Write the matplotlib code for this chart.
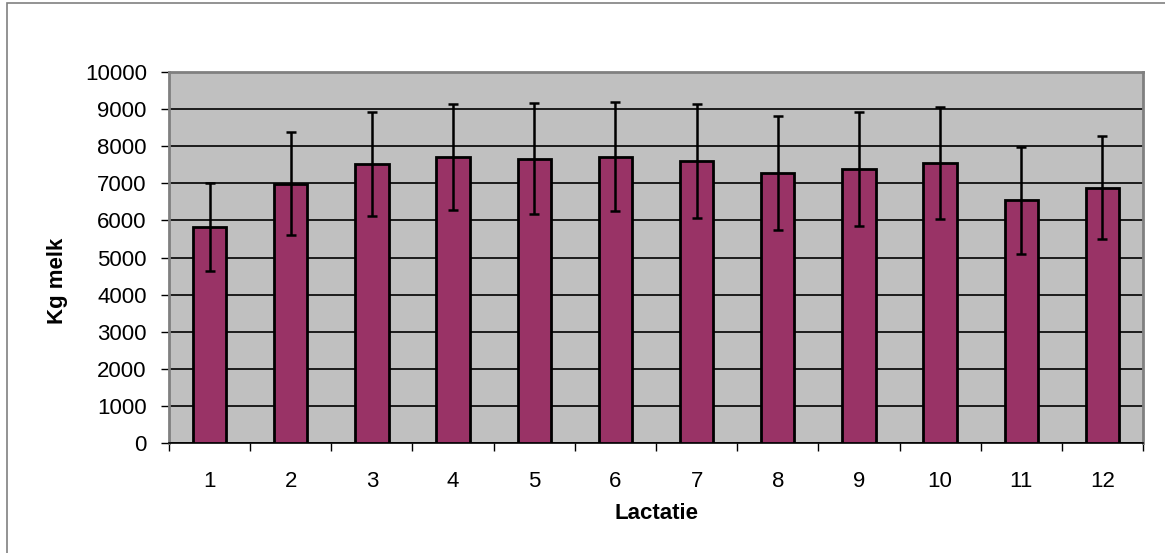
import matplotlib.pyplot as plt
from matplotlib.patches import Rectangle
import numpy as np

lactatie = ['1', '2', '3', '4', '5', '6', '7', '8', '9', '10', '11', '12']
kg_melk = [5830, 6990, 7510, 7700, 7660, 7720, 7600, 7280, 7380, 7550, 6540, 6880]
sd = [1190, 1380, 1400, 1430, 1500, 1470, 1530, 1530, 1540, 1510, 1450, 1390]

plt.rcParams['font.family'] = ['Liberation Sans', 'DejaVu Sans']
fs = 16

fig = plt.figure(figsize=(11.65, 5.53), dpi=100)
ax = fig.add_axes([169 / 1165, 1 - 443 / 553, (1143 - 169) / 1165, (443 - 72) / 553])

# thin grey frame round the whole chart, like the excel chart area
fig.patches.append(Rectangle((7 / 1165, -0.01), 1.1, 1 - 3 / 553 + 0.01,
                             transform=fig.transFigure, fill=False,
                             edgecolor='#808080', linewidth=1.2))

x = np.arange(len(lactatie))
ax.set_facecolor('#C0C0C0')
ax.bar(x, kg_melk, width=0.41, color='#993366', edgecolor='black',
       linewidth=2.0, zorder=3)
ax.errorbar(x, kg_melk, yerr=sd, fmt='none', ecolor='black',
            elinewidth=1.8, capsize=3.8, capthick=1.8, zorder=4)

ax.set_xlim(-0.5, len(lactatie) - 0.5)
ax.set_ylim(0, 10000)
ax.set_yticks(range(0, 10001, 1000))
ax.yaxis.grid(True, color='black', linewidth=1.2, zorder=1)
ax.set_axisbelow(True)

# x ticks between the categories, labels in the middle
ax.set_xticks(np.arange(-0.5, len(lactatie)), minor=False)
ax.set_xticklabels([])
ax.set_xticks(x, minor=True)
ax.set_xticklabels(lactatie, minor=True)
ax.tick_params(axis='x', which='minor', length=0, pad=20, labelsize=fs)
ax.tick_params(axis='x', which='major', length=6, width=1, direction='out')
ax.tick_params(axis='y', length=6, width=1, direction='out', pad=10,
               labelsize=fs)

for side in ['top', 'left', 'right']:
    ax.spines[side].set_color('#808080')
    ax.spines[side].set_linewidth(2)
ax.spines['bottom'].set_color('black')
ax.spines['bottom'].set_linewidth(1.2)

ax.set_xlabel('Lactatie', fontsize=fs, fontweight='bold', labelpad=8)
ax.set_ylabel('Kg melk', fontsize=fs, fontweight='bold')
ax.yaxis.set_label_coords(-0.104, 0.437)

fig.savefig('out.png', dpi=100, facecolor='white')
